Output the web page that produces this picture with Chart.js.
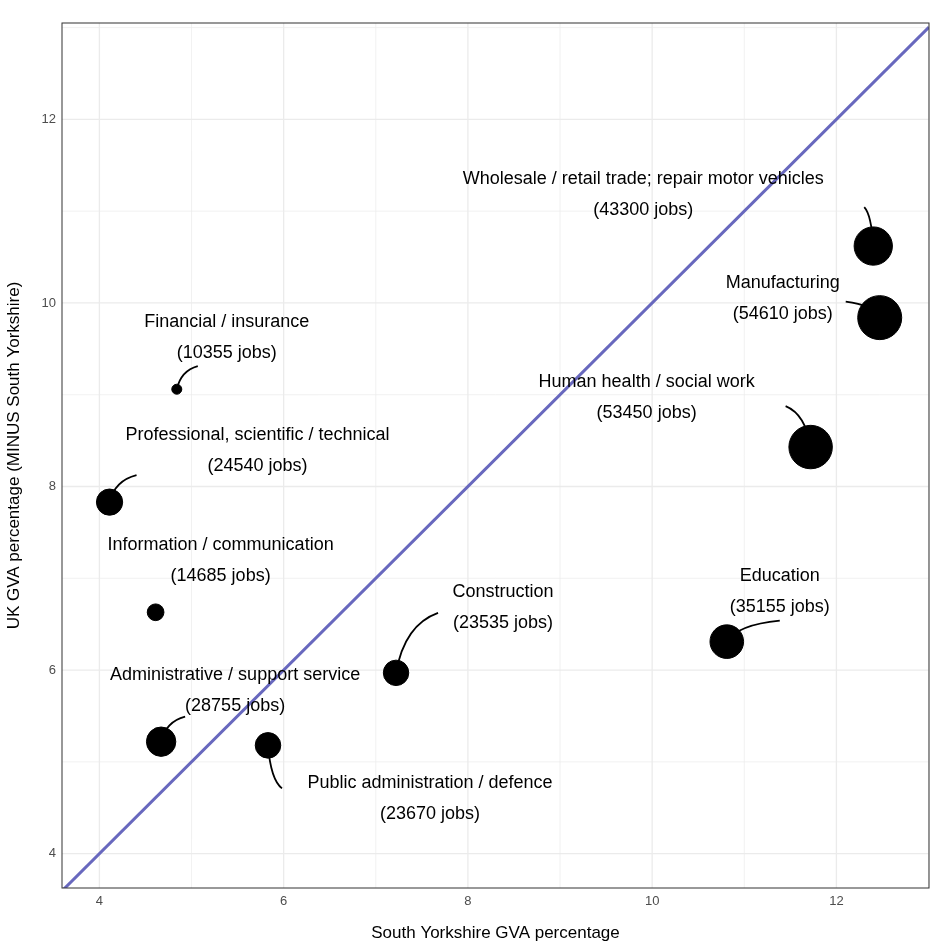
<!DOCTYPE html>
<html><head><meta charset="utf-8">
<script src="https://cdn.jsdelivr.net/npm/chart.js@4"></script>
<style>html,body{margin:0;background:#fff}#w{width:952px;height:946px}</style>
</head><body><div id="w"><canvas id="c"></canvas></div>
<script>
const sectors=["Wholesale / retail trade; repair motor vehicles","Manufacturing","Human health / social work","Education","Construction","Public administration / defence","Administrative / support service","Information / communication","Professional, scientific / technical","Financial / insurance"];
const jobs=[43300,54610,53450,35155,23535,23670,28755,14685,24540,10355];
const syGVA=[12.40,12.47,11.72,10.81,7.22,5.83,4.67,4.61,4.11,4.84];
const ukGVA=[10.62,9.84,8.43,6.31,5.97,5.18,5.22,6.63,7.83,9.06];
const xTicks=[4,6,8,10,12], yTicks=[4,6,8,10,12];
// label offsets in px: [labelDx, line1Dy, leaderDx, leaderDy]
const labelOff=[[-230,-67,-9,-39],[-97,-35,-34,-16],[-164,-65,-25,-41],[53,-66,53,-21],[107,-81,42,-60],[162,38,14,43],[74,-67,24,-25],[65,-67,null,null],[148,-67,27,-27],[50,-67,21,-23]];
const minJ=Math.min(...jobs),maxJ=Math.max(...jobs);
const radius=j=>Math.sqrt(25+(j-minJ)/(maxJ-minJ)*(484-25));
const labels={id:'labels',afterDatasetsDraw(ch){
 const ctx=ch.ctx,xs=ch.scales.x,ys=ch.scales.y;
 ctx.save();ctx.beginPath();ctx.rect(ch.chartArea.left,ch.chartArea.top,ch.chartArea.width,ch.chartArea.height);ctx.clip();
 ctx.font='18px "Liberation Sans",Arial';ctx.fillStyle='#000';ctx.textAlign='center';ctx.textBaseline='middle';
 sectors.forEach((s,i)=>{const px=xs.getPixelForValue(syGVA[i]),py=ys.getPixelForValue(ukGVA[i]);const o=labelOff[i];
  if(o[2]!==null){ctx.strokeStyle='#000';ctx.lineWidth=1.8;ctx.beginPath();ctx.moveTo(px+o[2],py+o[3]);
   ctx.quadraticCurveTo(px+o[2]*0.2,py+o[3]*0.8,px,py);ctx.stroke();}
  ctx.fillText(s,px+o[0],py+o[1]);ctx.fillText('('+jobs[i]+' jobs)',px+o[0],py+o[1]+31);});
 ctx.restore();}};
const grid={id:'grid',beforeDatasetsDraw(ch){const ctx=ch.ctx,xs=ch.scales.x,ys=ch.scales.y,a=ch.chartArea;ctx.save();
 ctx.strokeStyle='#ebebeb';
 for(let v=3;v<=13;v+=1){const isMaj=v%2===0;ctx.lineWidth=isMaj?1.3:0.7;
  const x=xs.getPixelForValue(v);if(x>a.left&&x<a.right){ctx.beginPath();ctx.moveTo(x,a.top);ctx.lineTo(x,a.bottom);ctx.stroke();}
  const y=ys.getPixelForValue(v);if(y>a.top&&y<a.bottom){ctx.beginPath();ctx.moveTo(a.left,y);ctx.lineTo(a.right,y);ctx.stroke();}}
 ctx.restore();},
 afterDraw(ch){const a=ch.chartArea,ctx=ch.ctx;ctx.save();ctx.strokeStyle='#333';ctx.lineWidth=1;ctx.strokeRect(a.left,a.top,a.width,a.height);ctx.restore();}};
new Chart(document.getElementById('c'),{
 data:{datasets:[
  {type:'line',data:[{x:3.594,y:3.594},{x:13.005,y:13.005}],borderColor:'#6868be',borderWidth:3,pointRadius:0,order:2},
  {type:'scatter',data:syGVA.map((x,i)=>({x,y:ukGVA[i]})),backgroundColor:'#000',borderColor:'#000',pointRadius:jobs.map(radius),pointHoverRadius:jobs.map(radius),order:1}
 ]},
 options:{responsive:true,maintainAspectRatio:false,animation:false,
  layout:{padding:{left:0,right:-4,top:-6,bottom:0}},
  plugins:{legend:{display:false},tooltip:{enabled:false}},
  scales:{
   x:{type:'linear',min:3.594,max:13.005,afterBuildTicks:s=>{s.ticks=xTicks.map(v=>({value:v}))},afterFit:s=>{s.height=58},
    grid:{display:false,drawTicks:true,tickLength:4,tickColor:'#333'},border:{display:false},
    ticks:{color:'#4d4d4d',font:{size:13,family:'"Liberation Sans",Arial'},padding:2},
    title:{display:true,text:'South Yorkshire GVA percentage',color:'#000',font:{size:17,family:'"Liberation Sans",Arial'},padding:{top:4,bottom:2}}},
   y:{type:'linear',min:3.626,max:13.05,afterBuildTicks:s=>{s.ticks=yTicks.map(v=>({value:v}))},afterFit:s=>{s.width=62},
    grid:{display:false,tickLength:4,tickColor:'#333'},border:{display:false},
    ticks:{color:'#4d4d4d',font:{size:13,family:'"Liberation Sans",Arial'},padding:2},
    title:{display:true,text:'UK GVA percentage (MINUS South Yorkshire)',color:'#000',font:{size:17,family:'"Liberation Sans",Arial'},padding:{top:4,bottom:4}}}
  }},
 plugins:[grid,labels]});
</script></body></html>
